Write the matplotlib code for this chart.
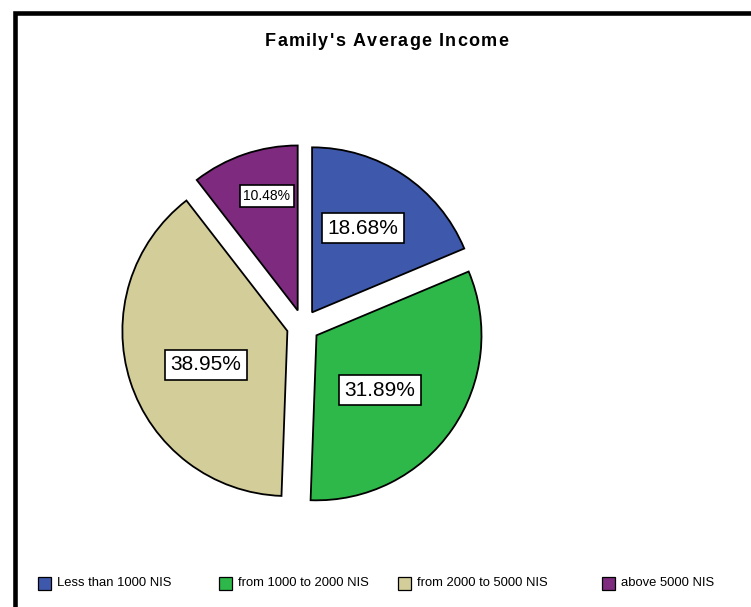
import matplotlib.pyplot as plt
from matplotlib.patches import Rectangle
from matplotlib.font_manager import FontProperties, findfont
from matplotlib.ft2font import FT2Font

# Family income categories and shares (%)
categories = ['Less than 1000 NIS', 'from 1000 to 2000 NIS', 'from 2000 to 5000 NIS', 'above 5000 NIS']
shares = [18.68, 31.89, 38.95, 10.48]
colors = ['#3e58ac', '#2fb84a', '#d3ce99', '#7d2a7f']

title = "Family's Average Income"

W, H = 751, 607
FONT = ['Liberation Sans', 'DejaVu Sans']

# layout (pixels from the top-left corner)
pie_center = (303, 326)
pie_radius = 165
explode_px = 16.4
label_xy = [(363, 228), (380, 390), (206, 365), (267, 196)]
label_size = [15, 15, 15, 10]
legend_x = [38, 219, 398, 602]
legend_y = 583

fig = plt.figure(figsize=(W / 100, H / 100), dpi=100)

# axes spanning the whole figure, one data unit = one pixel
ax = fig.add_axes([0, 0, 1, 1])
ax.axis('off')

# thick frame, open to the right and bottom
ax.add_patch(Rectangle((14.5, -20), W + 20, H - 13 + 20, fill=False, lw=3.3, ec='black'))

wedges, texts, autotexts = ax.pie(
    shares, colors=colors, startangle=90, counterclock=False,
    center=(pie_center[0], H - pie_center[1]), radius=pie_radius,
    explode=[explode_px] * len(shares), autopct='%.2f%%',
    wedgeprops=dict(edgecolor='black', linewidth=1.3),
    textprops=dict(family=FONT),
)
ax.set_xlim(0, W)
ax.set_ylim(0, H)
ax.set_aspect('equal')

for t, (lx, ly), fs in zip(autotexts, label_xy, label_size):
    t.set_position((lx, H - ly))
    t.set_fontsize(fs)
    t.set_bbox(dict(facecolor='white', edgecolor='black', linewidth=1.2,
                    boxstyle='square,pad=0.27'))


# title with a bit of letter spacing
def spaced_text(s, cx, baseline, size, total_width):
    prop = FontProperties(family=FONT[0], weight='bold', size=size)
    ft = FT2Font(findfont(prop))
    ft.set_size(size, 100)
    adv = [ft.load_char(ord(c)).linearHoriAdvance / 65536 for c in s]
    track = (total_width - sum(adv)) / (len(s) - 1)
    x = cx - total_width / 2
    for c, a in zip(s, adv):
        ax.text(x, H - baseline, c, fontproperties=prop, ha='left', va='baseline')
        x += a + track


spaced_text(title, 386.5, 45.5, 13, 243)

# legend along the bottom
for x, c, name in zip(legend_x, colors, categories):
    ax.add_patch(Rectangle((x, H - legend_y - 6.5), 13, 13, fc=c, ec='black', lw=0.9))
    ax.text(x + 19, H - legend_y, name, family=FONT, fontsize=9.4, va='center', ha='left')

fig.savefig('out.png', dpi=100)
